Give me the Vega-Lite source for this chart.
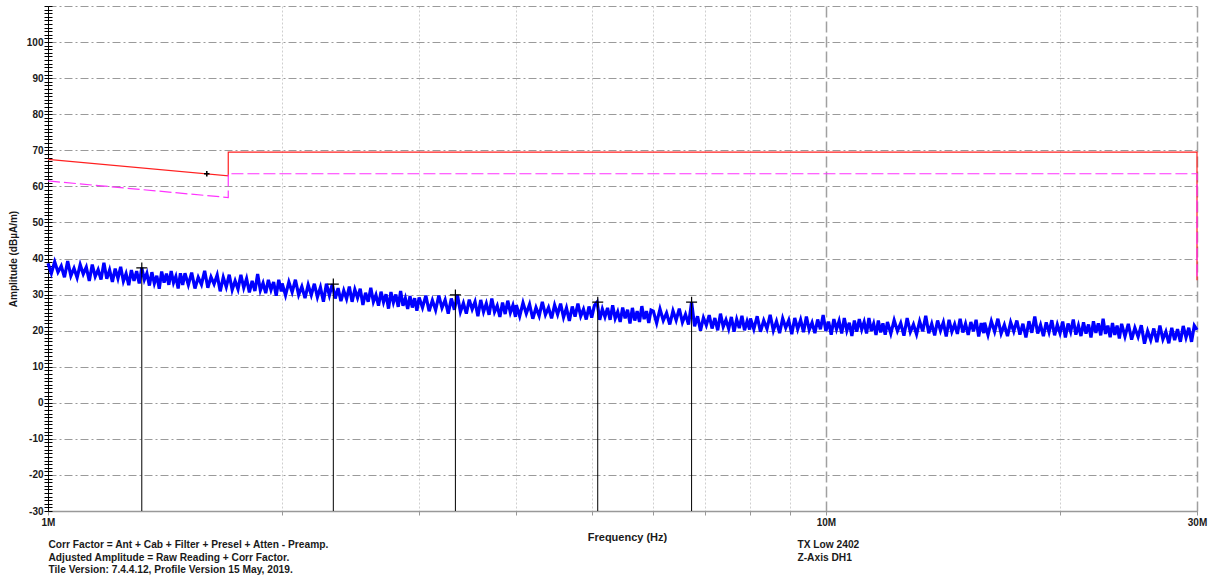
{
  "$schema": "https://vega.github.io/schema/vega-lite/v6.json",
  "width": 1149,
  "height": 505,
  "autosize": "none",
  "padding": {"left": 48, "top": 6, "right": 13, "bottom": 70},
  "background": "white",
  "config": {"view": {"stroke": null}, "font": "Liberation Sans"},
  "datasets": {
    "noise": [
      {"f":1.00,"a":38.7},{"f":1.01,"a":35.9},{"f":1.02,"a":39.1},{"f":1.03,"a":36.2},{"f":1.04,"a":37.9},{"f":1.05,"a":34.8},{"f":1.06,"a":39.3},{"f":1.07,"a":35.2},{"f":1.08,"a":37.3},{"f":1.09,"a":34.7},
      {"f":1.10,"a":38.3},{"f":1.11,"a":35.7},{"f":1.12,"a":37.6},{"f":1.13,"a":33.8},{"f":1.14,"a":38.3},{"f":1.15,"a":35.0},{"f":1.16,"a":36.9},{"f":1.17,"a":34.2},{"f":1.18,"a":38.8},{"f":1.19,"a":34.4},
      {"f":1.20,"a":36.8},{"f":1.21,"a":33.5},{"f":1.22,"a":37.2},{"f":1.23,"a":34.5},{"f":1.24,"a":37.7},{"f":1.25,"a":33.7},{"f":1.26,"a":35.8},{"f":1.27,"a":32.6},{"f":1.28,"a":36.8},{"f":1.29,"a":33.8},
      {"f":1.30,"a":36.5},{"f":1.31,"a":33.1},{"f":1.32,"a":37.4},{"f":1.33,"a":34.1},{"f":1.34,"a":35.9},{"f":1.35,"a":32.5},{"f":1.36,"a":36.2},{"f":1.37,"a":33.1},{"f":1.38,"a":35.2},{"f":1.39,"a":31.6},
      {"f":1.40,"a":36.4},{"f":1.41,"a":33.3},{"f":1.42,"a":35.8},{"f":1.43,"a":32.7},{"f":1.44,"a":36.5},{"f":1.45,"a":33.3},{"f":1.46,"a":35.0},{"f":1.47,"a":31.7},{"f":1.48,"a":35.9},{"f":1.49,"a":32.7},
      {"f":1.5,"a":35.9},{"f":1.515,"a":32.7},{"f":1.53,"a":36.1},{"f":1.545,"a":31.7},{"f":1.56,"a":34.8},{"f":1.575,"a":32.8},{"f":1.59,"a":36.6},{"f":1.605,"a":31.9},{"f":1.62,"a":34.9},{"f":1.635,"a":32.9},
      {"f":1.65,"a":35.4},{"f":1.665,"a":30.9},{"f":1.68,"a":34.8},{"f":1.695,"a":32.1},{"f":1.71,"a":35.5},{"f":1.725,"a":31.3},{"f":1.74,"a":33.8},{"f":1.755,"a":31.5},{"f":1.77,"a":35.5},{"f":1.785,"a":31.9},
      {"f":1.8,"a":34.4},{"f":1.815,"a":30.6},{"f":1.83,"a":33.8},{"f":1.845,"a":31.0},{"f":1.86,"a":35.7},{"f":1.875,"a":31.2},{"f":1.89,"a":33.2},{"f":1.905,"a":30.4},{"f":1.92,"a":34.1},{"f":1.935,"a":31.3},
      {"f":1.95,"a":33.5},{"f":1.965,"a":29.7},{"f":1.98,"a":34.1},{"f":1.995,"a":30.9},
      {"f":2.00,"a":33.1},{"f":2.02,"a":29.8},{"f":2.04,"a":33.5},{"f":2.06,"a":30.7},{"f":2.08,"a":34.1},{"f":2.10,"a":29.9},{"f":2.12,"a":32.2},{"f":2.14,"a":29.0},{"f":2.16,"a":32.7},{"f":2.18,"a":29.9},
      {"f":2.20,"a":33.0},{"f":2.22,"a":29.3},{"f":2.24,"a":32.0},{"f":2.26,"a":28.0},{"f":2.28,"a":33.0},{"f":2.30,"a":29.8},{"f":2.32,"a":32.9},{"f":2.34,"a":28.9},{"f":2.36,"a":31.8},{"f":2.38,"a":28.2},
      {"f":2.40,"a":31.1},{"f":2.42,"a":28.8},{"f":2.44,"a":32.2},{"f":2.46,"a":28.0},{"f":2.48,"a":31.4},{"f":2.50,"a":29.1},{"f":2.52,"a":31.6},{"f":2.54,"a":27.1},{"f":2.56,"a":30.5},{"f":2.58,"a":28.0},
      {"f":2.60,"a":31.9},{"f":2.62,"a":28.0},{"f":2.64,"a":29.9},{"f":2.66,"a":26.9},{"f":2.68,"a":30.8},{"f":2.70,"a":27.9},{"f":2.72,"a":30.1},{"f":2.74,"a":26.1},{"f":2.76,"a":30.7},{"f":2.78,"a":27.8},
      {"f":2.80,"a":30.0},{"f":2.82,"a":26.6},{"f":2.84,"a":31.0},{"f":2.86,"a":26.9},{"f":2.88,"a":29.0},{"f":2.90,"a":26.0},{"f":2.92,"a":29.6},{"f":2.94,"a":26.4},{"f":2.96,"a":29.0},{"f":2.98,"a":25.5},
      {"f":3.00,"a":29.2},{"f":3.03,"a":26.4},{"f":3.06,"a":29.7},{"f":3.09,"a":25.4},{"f":3.12,"a":28.4},{"f":3.15,"a":25.7},{"f":3.18,"a":29.7},{"f":3.21,"a":26.3},{"f":3.24,"a":28.5},{"f":3.27,"a":24.7},
      {"f":3.30,"a":28.9},{"f":3.33,"a":25.8},{"f":3.36,"a":29.9},{"f":3.39,"a":25.2},{"f":3.42,"a":27.6},{"f":3.45,"a":24.7},{"f":3.48,"a":28.6},{"f":3.51,"a":25.9},{"f":3.54,"a":28.0},{"f":3.57,"a":24.0},
      {"f":3.60,"a":28.5},{"f":3.63,"a":25.2},{"f":3.66,"a":27.5},{"f":3.69,"a":24.4},{"f":3.72,"a":28.9},{"f":3.75,"a":25.2},{"f":3.78,"a":26.9},{"f":3.81,"a":23.8},{"f":3.84,"a":27.8},{"f":3.87,"a":24.6},
      {"f":3.90,"a":28.3},{"f":3.93,"a":25.0},{"f":3.96,"a":27.0},{"f":3.99,"a":23.8},
      {"f":4.00,"a":27.1},{"f":4.04,"a":24.0},{"f":4.08,"a":27.7},{"f":4.12,"a":24.7},{"f":4.16,"a":27.3},{"f":4.20,"a":23.3},{"f":4.24,"a":26.4},{"f":4.28,"a":24.1},{"f":4.32,"a":28.0},{"f":4.36,"a":24.4},
      {"f":4.40,"a":26.4},{"f":4.44,"a":23.4},{"f":4.48,"a":27.1},{"f":4.52,"a":24.5},{"f":4.56,"a":27.5},{"f":4.60,"a":23.7},{"f":4.64,"a":26.3},{"f":4.68,"a":22.7},{"f":4.72,"a":26.7},{"f":4.76,"a":23.9},
      {"f":4.80,"a":27.5},{"f":4.84,"a":24.0},{"f":4.88,"a":25.9},{"f":4.92,"a":23.1},{"f":4.96,"a":26.7},{"f":5.00,"a":23.6},{"f":5.04,"a":27.0},{"f":5.08,"a":27.9},{"f":5.12,"a":23.0},{"f":5.16,"a":26.0},
      {"f":5.20,"a":23.8},{"f":5.24,"a":26.3},{"f":5.28,"a":23.0},{"f":5.32,"a":27.0},{"f":5.36,"a":23.4},{"f":5.40,"a":25.2},{"f":5.44,"a":22.4},{"f":5.48,"a":26.4},{"f":5.52,"a":23.4},{"f":5.56,"a":25.8},
      {"f":5.60,"a":22.0},{"f":5.64,"a":26.3},{"f":5.68,"a":22.8},{"f":5.72,"a":25.4},{"f":5.76,"a":22.4},{"f":5.80,"a":26.8},{"f":5.84,"a":23.2},{"f":5.88,"a":25.4},{"f":5.92,"a":22.1},{"f":5.96,"a":25.7},
      {"f":6.00,"a":25.4},{"f":6.06,"a":22.1},{"f":6.12,"a":26.0},{"f":6.18,"a":22.8},{"f":6.24,"a":24.9},{"f":6.30,"a":21.7},{"f":6.36,"a":25.5},{"f":6.42,"a":22.9},{"f":6.48,"a":26.1},{"f":6.54,"a":22.3},
      {"f":6.60,"a":24.5},{"f":6.66,"a":21.7},{"f":6.72,"a":27.9},{"f":6.78,"a":21.2},{"f":6.84,"a":24.0},{"f":6.90,"a":20.0},{"f":6.96,"a":23.6},{"f":7.02,"a":21.5},{"f":7.08,"a":24.3},{"f":7.14,"a":20.6},
      {"f":7.20,"a":23.5},{"f":7.26,"a":20.1},{"f":7.32,"a":24.7},{"f":7.38,"a":21.1},{"f":7.44,"a":23.0},{"f":7.50,"a":20.5},{"f":7.56,"a":23.8},{"f":7.62,"a":19.7},{"f":7.68,"a":23.1},{"f":7.74,"a":20.7},
      {"f":7.80,"a":24.1},{"f":7.86,"a":20.1},{"f":7.92,"a":22.6},{"f":7.98,"a":20.3},
      {"f":8.00,"a":23.4},{"f":8.08,"a":20.4},{"f":8.16,"a":24.0},{"f":8.24,"a":19.7},{"f":8.32,"a":22.8},{"f":8.40,"a":20.5},{"f":8.48,"a":24.4},{"f":8.56,"a":20.0},{"f":8.64,"a":22.6},{"f":8.72,"a":19.3},
      {"f":8.80,"a":23.4},{"f":8.88,"a":20.8},{"f":8.96,"a":22.9},{"f":9.04,"a":19.0},{"f":9.12,"a":23.5},{"f":9.20,"a":20.4},{"f":9.28,"a":23.0},{"f":9.36,"a":19.6},{"f":9.44,"a":23.9},{"f":9.52,"a":20.2},
      {"f":9.60,"a":22.2},{"f":9.68,"a":19.3},{"f":9.76,"a":23.1},{"f":9.84,"a":20.4},{"f":9.92,"a":24.3},{"f":10.00,"a":19.9},{"f":10.08,"a":22.5},{"f":10.16,"a":18.9},{"f":10.24,"a":23.2},{"f":10.32,"a":20.4},
      {"f":10.40,"a":22.7},{"f":10.48,"a":19.2},{"f":10.56,"a":23.5},{"f":10.64,"a":20.0},{"f":10.72,"a":22.2},{"f":10.80,"a":18.5},{"f":10.88,"a":22.8},{"f":10.96,"a":19.7},{"f":11.04,"a":23.2},{"f":11.12,"a":20.3},
      {"f":11.20,"a":22.4},{"f":11.28,"a":19.2},{"f":11.36,"a":23.5},{"f":11.44,"a":19.9},{"f":11.52,"a":21.9},{"f":11.60,"a":18.8},{"f":11.68,"a":22.8},{"f":11.76,"a":19.5},{"f":11.84,"a":22.0},{"f":11.92,"a":18.9},
      {"f":12.00,"a":22.4},{"f":12.12,"a":19.2},{"f":12.24,"a":22.9},{"f":12.36,"a":19.9},{"f":12.48,"a":22.1},{"f":12.60,"a":18.6},{"f":12.72,"a":23.5},{"f":12.84,"a":19.6},{"f":12.96,"a":21.7},{"f":13.08,"a":19.0},
      {"f":13.20,"a":22.6},{"f":13.32,"a":19.8},{"f":13.44,"a":24.1},{"f":13.56,"a":19.3},{"f":13.68,"a":21.9},{"f":13.80,"a":18.7},{"f":13.92,"a":22.8},{"f":14.04,"a":20.0},{"f":14.16,"a":22.3},{"f":14.28,"a":18.4},
      {"f":14.40,"a":23.0},{"f":14.52,"a":19.7},{"f":14.64,"a":21.8},{"f":14.76,"a":19.1},{"f":14.88,"a":23.3},{"f":15.00,"a":19.5},{"f":15.12,"a":21.9},{"f":15.24,"a":18.8},{"f":15.36,"a":22.4},{"f":15.48,"a":19.8},
      {"f":15.60,"a":23.0},{"f":15.72,"a":18.4},{"f":15.84,"a":22.1},{"f":15.96,"a":19.3},
      {"f":16.00,"a":22.2},{"f":16.16,"a":18.8},{"f":16.32,"a":22.6},{"f":16.48,"a":19.7},{"f":16.64,"a":23.3},{"f":16.80,"a":19.2},{"f":16.96,"a":21.6},{"f":17.12,"a":18.5},{"f":17.28,"a":22.3},{"f":17.44,"a":19.8},
      {"f":17.60,"a":22.8},{"f":17.76,"a":18.9},{"f":17.92,"a":21.9},{"f":18.08,"a":18.1},{"f":18.24,"a":22.6},{"f":18.40,"a":19.4},{"f":18.56,"a":23.9},{"f":18.72,"a":19.2},{"f":18.88,"a":21.6},{"f":19.04,"a":18.5},
      {"f":19.20,"a":22.3},{"f":19.36,"a":19.6},{"f":19.52,"a":22.9},{"f":19.68,"a":18.7},{"f":19.84,"a":21.7},{"f":20.00,"a":19.3},{"f":20.16,"a":22.5},{"f":20.32,"a":18.1},{"f":20.48,"a":22.0},{"f":20.64,"a":19.7},
      {"f":20.80,"a":23.1},{"f":20.96,"a":18.9},{"f":21.12,"a":21.4},{"f":21.28,"a":18.5},{"f":21.44,"a":22.3},{"f":21.60,"a":19.2},{"f":21.76,"a":21.7},{"f":21.92,"a":18.1},{"f":22.08,"a":22.6},{"f":22.24,"a":19.4},
      {"f":22.40,"a":22.0},{"f":22.56,"a":18.7},{"f":22.72,"a":23.3},{"f":22.88,"a":19.1},{"f":23.04,"a":21.4},{"f":23.20,"a":18.2},{"f":23.36,"a":22.1},{"f":23.52,"a":18.8},{"f":23.68,"a":21.4},{"f":23.84,"a":17.8},
      {"f":24.00,"a":21.9},{"f":24.24,"a":18.4},{"f":24.48,"a":21.9},{"f":24.72,"a":17.5},{"f":24.96,"a":20.8},{"f":25.20,"a":18.3},{"f":25.44,"a":21.5},{"f":25.68,"a":16.4},{"f":25.92,"a":19.9},{"f":26.16,"a":17.4},
      {"f":26.40,"a":20.6},{"f":26.64,"a":16.8},{"f":26.88,"a":21.4},{"f":27.12,"a":17.6},{"f":27.36,"a":19.7},{"f":27.60,"a":16.5},{"f":27.84,"a":20.8},{"f":28.08,"a":17.4},{"f":28.32,"a":20.4},{"f":28.56,"a":16.9},
      {"f":28.80,"a":21.3},{"f":29.04,"a":18.1},{"f":29.28,"a":20.8},{"f":29.52,"a":16.9},{"f":29.76,"a":21.4},{"f":30.00,"a":20.2}
    ],
    "lim": [{"i":0,"f":1,"a":67.5},{"i":1,"f":1.705,"a":62.9},{"i":2,"f":1.705,"a":69.5},{"i":3,"f":30,"a":69.5},{"i":4,"f":30,"a":34}],
    "avg": [{"i":0,"f":1,"a":61.5},{"i":1,"f":1.705,"a":56.9},{"i":2,"f":1.705,"a":63.5},{"i":3,"f":30,"a":63.5},{"i":4,"f":30,"a":34}],
    "peaks": [{"f":1.32,"a":37.4},{"f":2.327,"a":32.9},{"f":3.34,"a":29.9},{"f":5.09,"a":27.9},{"f":6.72,"a":27.9}],
    "limmark": [{"f":1.6,"a":63.5}]
  },
  "resolve": {"axis": {"x": "independent", "y": "independent"}},
  "layer": [
    {
      "data": {"name": "noise"},
      "mark": {"type": "line", "color": "#0000ff", "strokeWidth": 3.2, "strokeJoin": "miter", "strokeMiterLimit": 4},
      "encoding": {
        "x": {"field": "f", "type": "quantitative",
          "scale": {"type": "log", "domain": [1, 30], "nice": false},
          "axis": {
            "values": [1,2,3,4,5,6,7,8,9,10,20,30],
            "labelExpr": "datum.value==1?'1M':datum.value==10?'10M':datum.value==30?'30M':''",
            "labelOverlap": false, "labelFlush": false,
            "labelFont": "Liberation Sans", "labelFontWeight": "bold", "labelFontSize": 10, "labelColor": "#1a1a1a", "labelPadding": 2,
            "grid": true,
            "gridColor": {"condition": {"test": "datum.value==10||datum.value==30", "value": "#a0a0a0"}, "value": "#cfcfcf"},
            "gridDash": {"condition": {"test": "datum.value==10||datum.value==30", "value": [11, 4]}, "value": [2, 2]},
            "gridWidth": {"condition": {"test": "datum.value==10||datum.value==30", "value": 1.5}, "value": 1},
            "domainColor": "#999999", "domainWidth": 1.5,
            "tickColor": "#999999", "tickSize": 4,
            "title": "Frequency (Hz)", "titleFont": "Liberation Sans", "titleFontWeight": "bold", "titleFontSize": 11, "titleColor": "#1a1a1a",
            "titleY": 20, "titleBaseline": "top", "titleX": 579, "titleAlign": "center"
          }
        },
        "y": {"field": "a", "type": "quantitative",
          "scale": {"domain": [-30, 110], "nice": false, "zero": false},
          "axis": {
            "orient": "left",
            "values": [-30,-29,-28,-27,-26,-25,-24,-23,-22,-21,-20,-19,-18,-17,-16,-15,-14,-13,-12,-11,-10,-9,-8,-7,-6,-5,-4,-3,-2,-1,0,1,2,3,4,5,6,7,8,9,10,11,12,13,14,15,16,17,18,19,20,21,22,23,24,25,26,27,28,29,30,31,32,33,34,35,36,37,38,39,40,41,42,43,44,45,46,47,48,49,50,51,52,53,54,55,56,57,58,59,60,61,62,63,64,65,66,67,68,69,70,71,72,73,74,75,76,77,78,79,80,81,82,83,84,85,86,87,88,89,90,91,92,93,94,95,96,97,98,99,100,101,102,103,104,105,106,107,108,109,110],
            "labelExpr": "(datum.value % 10 === 0 && datum.value < 110) ? ('' + datum.value) : ''",
            "labelOverlap": false, "labelFlush": false,
            "labelFont": "Liberation Sans", "labelFontWeight": "bold", "labelFontSize": 10, "labelColor": "#1a1a1a", "labelPadding": 1,
            "grid": true,
            "gridColor": "#9a9a9a", "gridDash": [8, 3, 2, 3],
            "gridOpacity": {"condition": {"test": "datum.value % 10 === 0", "value": 1}, "value": 0},
            "domainColor": "#000000", "domainWidth": 1,
            "tickColor": "#000000", "tickSize": 4,
            "title": "Amplitude (dBµA/m)", "titleFont": "Liberation Sans", "titleFontWeight": "bold", "titleFontSize": 10, "titleColor": "#1a1a1a",
            "titleX": -35, "titleBaseline": "middle"
          }
        }
      }
    },
    {
      "data": {"name": "lim"},
      "mark": {"type": "line", "color": "#ff2020", "strokeWidth": 1.2},
      "encoding": {
        "x": {"field": "f", "type": "quantitative", "scale": {"type": "log", "domain": [1, 30], "nice": false},
          "axis": {"orient": "bottom", "domain": false, "ticks": false, "labels": false, "grid": false,
            "title": ["TX Low 2402", "Z-Axis DH1"], "titleX": 749, "titleY": 28, "titleAlign": "left", "titleBaseline": "top",
            "titleLineHeight": 13, "titleFont": "Liberation Sans", "titleFontWeight": "bold", "titleFontSize": 10.2, "titleColor": "#1a1a1a"}},
        "y": {"field": "a", "type": "quantitative", "scale": {"domain": [-30, 110], "nice": false, "zero": false},
          "axis": {"orient": "left", "offset": -4, "domain": false, "labels": false, "grid": false, "ticks": true, "tickSize": 4, "tickColor": "#000000",
            "values": [-30,-29,-28,-27,-26,-25,-24,-23,-22,-21,-20,-19,-18,-17,-16,-15,-14,-13,-12,-11,-10,-9,-8,-7,-6,-5,-4,-3,-2,-1,0,1,2,3,4,5,6,7,8,9,10,11,12,13,14,15,16,17,18,19,20,21,22,23,24,25,26,27,28,29,30,31,32,33,34,35,36,37,38,39,40,41,42,43,44,45,46,47,48,49,50,51,52,53,54,55,56,57,58,59,60,61,62,63,64,65,66,67,68,69,70,71,72,73,74,75,76,77,78,79,80,81,82,83,84,85,86,87,88,89,90,91,92,93,94,95,96,97,98,99,100,101,102,103,104,105,106,107,108,109,110],
            "title": null}},
        "order": {"field": "i", "type": "quantitative"}
      }
    },
    {
      "data": {"name": "avg"},
      "mark": {"type": "line", "color": "#ff33ff", "strokeWidth": 1.2, "strokeDash": [12, 4]},
      "encoding": {
        "x": {"field": "f", "type": "quantitative", "scale": {"type": "log", "domain": [1, 30], "nice": false},
          "axis": {"orient": "bottom", "domain": false, "ticks": false, "labels": false, "grid": false,
            "title": ["Corr Factor = Ant + Cab + Filter + Presel + Atten - Preamp.", "Adjusted Amplitude = Raw Reading + Corr Factor.", "Tile Version: 7.4.4.12, Profile Version 15 May, 2019."],
            "titleX": 0, "titleY": 28.5, "titleAlign": "left", "titleBaseline": "top",
            "titleLineHeight": 12.7, "titleFont": "Liberation Sans", "titleFontWeight": "bold", "titleFontSize": 10.2, "titleColor": "#1a1a1a"}},
        "y": {"field": "a", "type": "quantitative", "scale": {"domain": [-30, 110], "nice": false, "zero": false}, "axis": null},
        "order": {"field": "i", "type": "quantitative"}
      }
    },
    {
      "data": {"name": "peaks"},
      "mark": {"type": "rule", "color": "#000000", "strokeWidth": 1},
      "encoding": {
        "x": {"field": "f", "type": "quantitative", "scale": {"type": "log", "domain": [1, 30], "nice": false}, "axis": null},
        "y": {"field": "a", "type": "quantitative", "scale": {"domain": [-30, 110], "nice": false, "zero": false}, "axis": null},
        "y2": {"datum": -30}
      }
    },
    {
      "data": {"name": "peaks"},
      "mark": {"type": "point", "shape": "M-1,0H1M0,-1V1", "size": 121, "stroke": "#000000", "strokeWidth": 1.2, "filled": false, "opacity": 1},
      "encoding": {
        "x": {"field": "f", "type": "quantitative", "scale": {"type": "log", "domain": [1, 30], "nice": false}, "axis": null},
        "y": {"field": "a", "type": "quantitative", "scale": {"domain": [-30, 110], "nice": false, "zero": false}, "axis": null}
      }
    },
    {
      "data": {"name": "limmark"},
      "mark": {"type": "point", "shape": "M-1,0H1M0,-1V1", "size": 30, "stroke": "#000000", "strokeWidth": 1.6, "filled": false, "opacity": 1},
      "encoding": {
        "x": {"field": "f", "type": "quantitative", "scale": {"type": "log", "domain": [1, 30], "nice": false}, "axis": null},
        "y": {"field": "a", "type": "quantitative", "scale": {"domain": [-30, 110], "nice": false, "zero": false}, "axis": null}
      }
    }
  ]
}
